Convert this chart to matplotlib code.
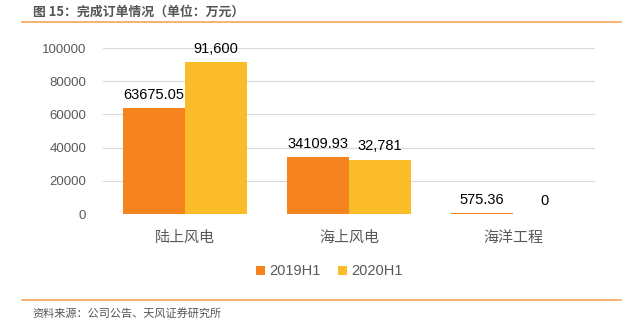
import numpy as np
import matplotlib.pyplot as plt
from matplotlib.lines import Line2D

plt.rcParams['font.family'] = ['Liberation Sans', 'Noto Sans CJK SC', 'DejaVu Sans']

categories = ["陆上风电", "海上风电", "海洋工程"]
v2019 = [63675.05, 34109.93, 575.36]
v2020 = [91600, 32781, 0]
labels2019 = ["63675.05", "34109.93", "575.36"]
labels2020 = ["91,600", "32,781", "0"]
yticks = [0, 20000, 40000, 60000, 80000, 100000]

c2019 = "#F5841F"
c2020 = "#FBBC2A"
grey = "#595959"

fig = plt.figure(figsize=(6.27, 3.29), dpi=100)
ax = fig.add_axes([0.164, 0.3495, 0.785, 0.5045])

x = np.arange(len(categories))
w = 0.38
ax.bar(x - w / 2, v2019, w, color=c2019, label="2019H1", zorder=3)
ax.bar(x + w / 2, v2020, w, color=c2020, label="2020H1", zorder=3)

for xi, v, t in zip(x, v2019, labels2019):
    ax.text(xi - w / 2, v + 3800, t, ha="center", va="bottom", fontsize=10.5, color="black")
for xi, v, t in zip(x, v2020, labels2020):
    ax.text(xi + w / 2, v + 3800, t, ha="center", va="bottom", fontsize=10.5, color="black")

ax.set_xlim(-0.5, 2.5)
ax.set_ylim(0, 100000)
ax.set_yticks(yticks)
ax.set_yticklabels([str(t) for t in yticks], fontsize=9.5, color=grey)
ax.set_xticks(x)
ax.set_xticklabels(categories, fontsize=10.8, color=grey, family=['Noto Sans CJK SC'])
ax.tick_params(axis="y", length=0, pad=12)
ax.tick_params(axis="x", length=0, pad=12)
ax.grid(axis="y", color="#D9D9D9", linewidth=0.8, zorder=0)
ax.set_axisbelow(True)
for s in ax.spines.values():
    s.set_visible(False)

leg = ax.legend(loc="upper center", bbox_to_anchor=(0.46, -0.225), ncol=2, frameon=False,
                fontsize=10.5, handlelength=0.6, handleheight=0.6, handletextpad=0.3,
                columnspacing=1.2)
for t in leg.get_texts():
    t.set_color(grey)

# title and footer
fig.text(0.052, 0.965, "图 15：完成订单情况（单位：万元）", fontsize=9.3, fontweight="bold",
         color="#555555", va="center", family=['Noto Sans CJK SC'])
fig.add_artist(Line2D([0.035, 0.99], [0.933, 0.933], color="#F4A55A", linewidth=1.2))
fig.add_artist(Line2D([0.035, 0.99], [0.088, 0.088], color="#F4A55A", linewidth=1.2))
fig.text(0.051, 0.048, "资料来源：公司公告、天风证券研究所", fontsize=8, color="#555555",
         va="center", family=['Noto Sans CJK SC'])

fig.savefig("out.png", dpi=100)
